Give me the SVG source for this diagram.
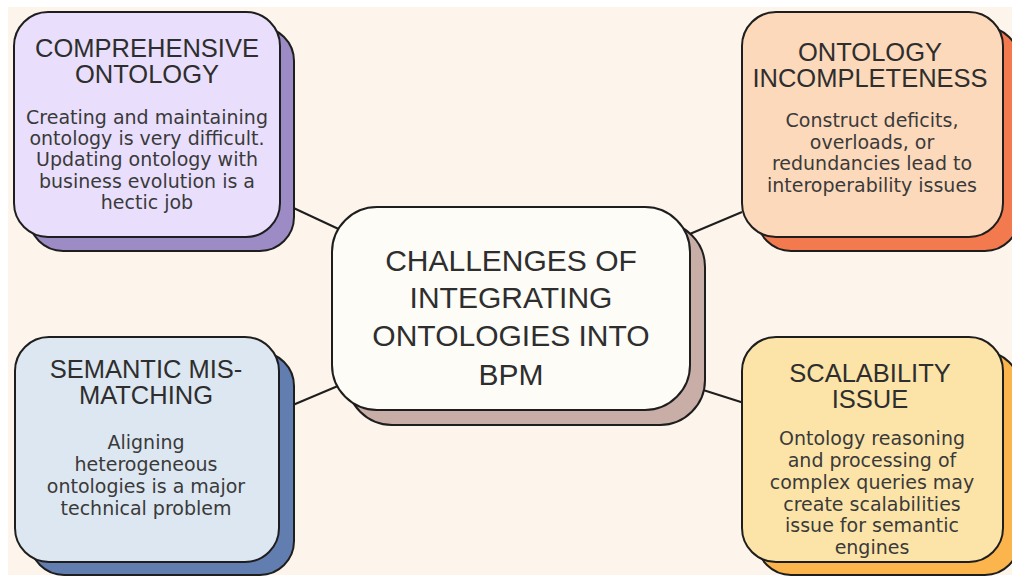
<svg xmlns="http://www.w3.org/2000/svg" width="1012" height="578" viewBox="0 0 1012 578">
<defs>
<style>
.bx{stroke:#1e1e1e;stroke-width:2}
.tt{font-family:"Liberation Sans",Arial,sans-serif;font-size:25.5px;fill:#2e2e2e;text-anchor:middle}
.ct{font-family:"Liberation Sans",Arial,sans-serif;font-size:30px;fill:#2e2e2e;text-anchor:middle}
.bd{font-family:"DejaVu Sans",sans-serif;font-size:19px;fill:#3a3a3a;text-anchor:middle}
.ln{stroke:#1e1e1e;stroke-width:2;fill:none}
</style>
</defs>
<rect x="0" y="0" width="1012" height="578" fill="#ffffff"/>
<rect x="8" y="7" width="1004" height="568" fill="#FDF5EB"/>
<g id="connectors">
<line class="ln" x1="285" y1="204" x2="345" y2="232"/>
<line class="ln" x1="742" y1="212" x2="685" y2="236"/>
<line class="ln" x1="281" y1="410" x2="345" y2="383"/>
<line class="ln" x1="700" y1="389" x2="744" y2="403"/>
</g>
<g id="center">
<rect class="bx" x="347" y="222" width="358" height="203" rx="45" fill="#C8AEA6"/>
<rect class="bx" x="332" y="207" width="358" height="203" rx="45" fill="#FDFCF7"/>
<text class="ct" x="511" y="271">CHALLENGES OF</text>
<text class="ct" x="511" y="308">INTEGRATING</text>
<text class="ct" x="511" y="346">ONTOLOGIES INTO</text>
<text class="ct" x="511" y="385">BPM</text>
</g>
<g id="comprehensive">
<rect class="bx" x="29" y="27" width="265" height="224" rx="34" fill="#9C8BC4"/>
<rect class="bx" x="14" y="12" width="266" height="225" rx="34" fill="#E9DFFC"/>
<text class="tt" x="147" y="57">COMPREHENSIVE</text>
<text class="tt" x="147" y="83">ONTOLOGY</text>
<text class="bd" x="147" y="124">Creating and maintaining</text>
<text class="bd" x="147" y="145">ontology is very difficult.</text>
<text class="bd" x="147" y="166">Updating ontology with</text>
<text class="bd" x="147" y="188">business evolution is a</text>
<text class="bd" x="147" y="209">hectic job</text>
</g>
<g id="incompleteness">
<rect class="bx" x="757" y="27" width="262" height="224" rx="34" fill="#F27A4E"/>
<rect class="bx" x="742" y="12" width="261" height="225" rx="34" fill="#FCD9BA"/>
<text class="tt" x="870" y="61">ONTOLOGY</text>
<text class="tt" x="870" y="87">INCOMPLETENESS</text>
<text class="bd" x="872" y="127">Construct deficits,</text>
<text class="bd" x="872" y="149">overloads, or</text>
<text class="bd" x="872" y="170">redundancies lead to</text>
<text class="bd" x="872" y="192">interoperability issues</text>
</g>
<g id="semantic">
<rect class="bx" x="30" y="352" width="264" height="223" rx="34" fill="#627DAF"/>
<rect class="bx" x="15" y="337" width="264" height="225" rx="34" fill="#DDE7F1"/>
<text class="tt" x="146" y="378">SEMANTIC MIS-</text>
<text class="tt" x="146" y="404">MATCHING</text>
<text class="bd" x="146" y="449">Aligning</text>
<text class="bd" x="146" y="471">heterogeneous</text>
<text class="bd" x="146" y="493">ontologies is a major</text>
<text class="bd" x="146" y="515">technical problem</text>
</g>
<g id="scalability">
<rect class="bx" x="757" y="352" width="262" height="223" rx="34" fill="#FBB54C"/>
<rect class="bx" x="742" y="337" width="261" height="225" rx="34" fill="#FCE4A8"/>
<text class="tt" x="870" y="382">SCALABILITY</text>
<text class="tt" x="870" y="408">ISSUE</text>
<text class="bd" x="872" y="445">Ontology reasoning</text>
<text class="bd" x="872" y="467">and processing of</text>
<text class="bd" x="872" y="489">complex queries may</text>
<text class="bd" x="872" y="511">create scalabilities</text>
<text class="bd" x="872" y="532">issue for semantic</text>
<text class="bd" x="872" y="554">engines</text>
</g>
</svg>
